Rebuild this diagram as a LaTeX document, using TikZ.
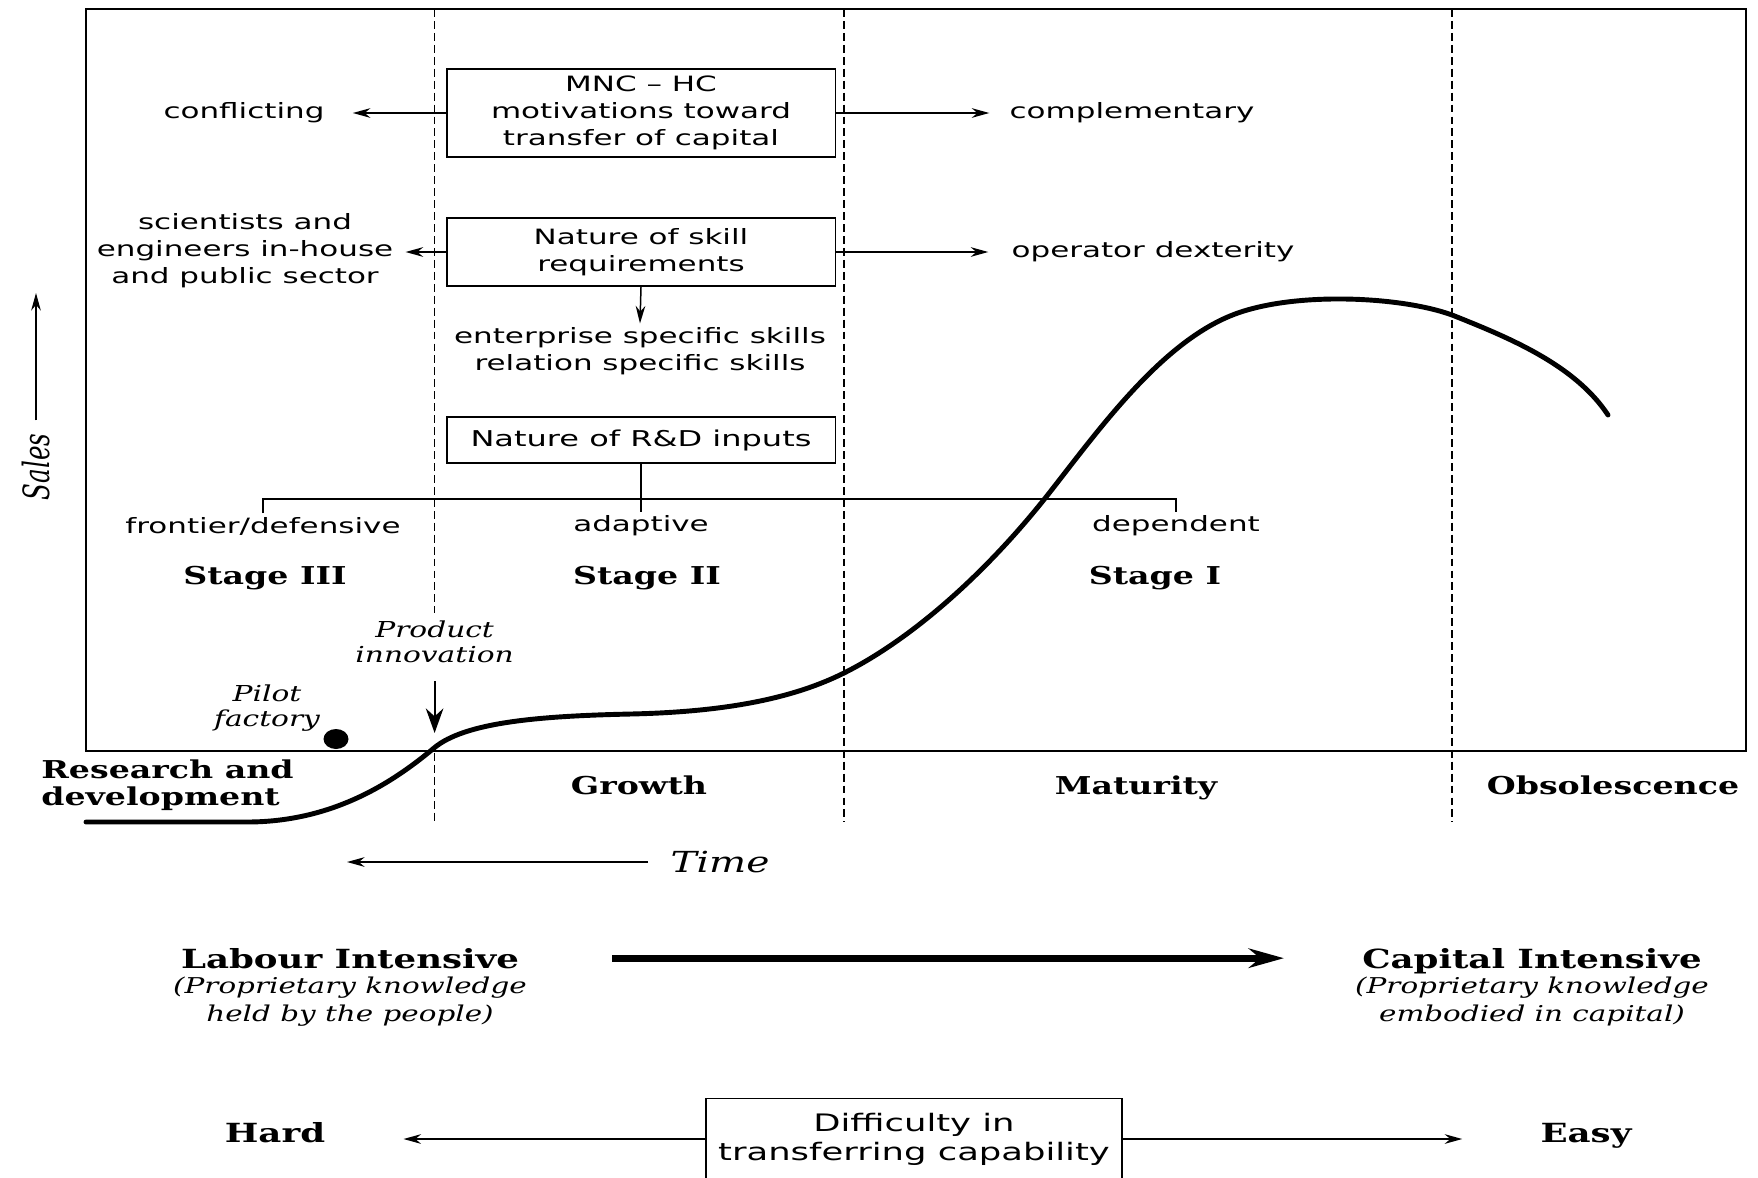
\documentclass[tikz,border=0pt]{standalone}
\usepackage{graphicx}
\usepackage{fontspec}
\setmainfont{DejaVu Serif}[FakeStretch=1.35]
\setsansfont{DejaVu Sans}[FakeStretch=1.47]
\newfontfamily\plainserif{DejaVu Serif}
\usetikzlibrary{arrows.meta,positioning}

\begin{document}
\begin{tikzpicture}[x=0.02cm,y=-0.02cm,>={Stealth[length=10pt,width=5.5pt]},
  factor/.style={draw,line width=1.1pt,minimum width=7.78cm,inner sep=0pt,align=center,
    font=\sffamily\fontsize{12}{15.4}\selectfont},
  txt/.style={inner sep=2pt,align=center,font=\sffamily\fontsize{12}{15.4}\selectfont},
  stage/.style={inner sep=0pt,align=center,font=\bfseries\fontsize{14}{15.4}\selectfont},
  heading/.style={inner sep=0pt,anchor=base,font=\bfseries\fontsize{15}{16}\selectfont},
  remark/.style={inner sep=0pt,align=center,font=\itshape\fontsize{12.5}{14.2}\selectfont},
  aside/.style={inner sep=0pt,align=center,font=\itshape\fontsize{12.4}{16}\selectfont},
  link/.style={->,line width=0.85pt},
  phase/.style={line width=0.85pt,dash pattern=on 4.5pt off 2.3pt}]
  \useasboundingbox (0,0) rectangle (1758,1177);
  \draw[line width=1.1pt] (86,9) rectangle (1746,751);
  \draw[phase] (434.6,9) -- (434.6,613) (434.6,753) -- (434.6,822);
  \draw[phase] (844,9) -- (844,822);
  \draw[phase] (1452,9) -- (1452,822);

  \node[factor,minimum height=1.76cm] (mnc) at (641,113) {MNC – HC\\motivations toward\\transfer of capital};
  \node[txt] (confl) at (244,113) {conflicting};
  \node[txt] (compl) at (1132,113) {complementary};
  \draw[link,shorten >=0.49cm] (mnc.west) -- (confl.east);
  \draw[link,shorten >=0.33cm] (mnc.east) -- (compl.west);

  \node[factor,minimum height=1.36cm] (skill) at (641,252) {Nature of skill\\requirements};
  \node[txt] (sci) at (245,251) {scientists and\\engineers in-house\\and public sector};
  \node[txt] (oper) at (1153,252) {operator dexterity};
  \node[txt] (skills) at (640,351) {enterprise specific skills\\relation specific skills};
  \draw[link,shorten >=0.17cm] (skill.west) -- (skill.west -| sci.east);
  \draw[link,shorten >=0.39cm] (skill.east) -- (skill.east -| oper.west);
  \draw[link] (skill.south) -- (skills.north);

  \node[factor,minimum height=0.92cm,font=\sffamily\fontsize{12.4}{15.4}\selectfont] (rd) at (641,440) {Nature of R\&D inputs};
  \node[txt] (front) at (263,526) {frontier/defensive};
  \node[txt] (adapt) at (641,526) {adaptive};
  \node[txt] (depend) at (1176,526) {dependent};
  \draw[line width=0.85pt] (rd.south) -- (adapt.north);
  \draw[line width=0.85pt] (front.north) -- ++(0,-14) -| (depend.north);
  \node[stage] (st3) at (265,578) {Stage III};
  \node[stage] (st2) at (647,578) {Stage II};
  \node[stage] (st1) at (1155,578) {Stage I};

  \node[remark] (prod) at (434.6,642) {Product\\innovation};
  \coordinate (launch) at (434.6,733);
  \draw[-{Stealth[length=14pt,width=10pt]},line width=1.2pt,shorten <=0.36cm] (prod) -- (launch);
  \node[remark] (pilot) at (267,708) {Pilot\\factory};
  \fill (336,739) ellipse [x radius=0.25cm,y radius=0.2cm];

  \draw[line width=2.8pt,line cap=round] (86,822) -- (247,822)
    .. controls (330,822) and (390,785) .. (434,748)
    .. controls (465,722) and (540,716) .. (631,714)
    .. controls (720,712) and (790,700) .. (844,673)
    .. controls (910,640) and (985,575) .. (1050,492)
    .. controls (1100,428) and (1160,345) .. (1230,316)
    .. controls (1290,291) and (1400,296) .. (1452,315)
    .. controls (1510,338) and (1575,365) .. (1608,415);

  \node[stage,align=left,anchor=west] (rnd) at (41,785) {Research and\\development};
  \node[heading,font=\bfseries\fontsize{14}{16}\selectfont] (grow) at (639,794) {Growth};
  \node[heading,font=\bfseries\fontsize{14}{16}\selectfont] (mat) at (1136,794) {Maturity};
  \node[heading,font=\bfseries\fontsize{14}{16}\selectfont] (obs) at (1613,794) {Obsolescence};

  \node[rotate=90,inner sep=0pt] (sales) at (36,467) {\plainserif\itshape\fontsize{14}{16}\selectfont\scalebox{1}[1.47]{Sales}};
  \coordinate (salestop) at (36,293);
  \draw[link,shorten <=0.26cm] (sales.east) -- (salestop);

  \node[remark,font=\itshape\fontsize{16.5}{18}\selectfont] (time) at (720,862) {Time};
  \coordinate (past) at (347,862);
  \draw[link,shorten <=0.44cm] (time.west) -- (past);

  \node[heading] (labour) at (350,968) {Labour Intensive};
  \node[aside,below=5pt of labour.base] (labnote) {(Proprietary knowledge\\held by the people)};
  \node[heading] (capital) at (1532,968) {Capital Intensive};
  \node[aside,below=5pt of capital.base] (capnote) {(Proprietary knowledge\\embodied in capital)};
  \draw[-{Stealth[length=20pt,width=11pt]},line width=4pt,shorten <=1.86cm,shorten >=1.56cm]
    (labour.east) -- (labour.east -| capital.west);

  \node[heading] (hard) at (275,1142) {Hard};
  \node[heading] (easy) at (1586,1142) {Easy};
  \node[factor,minimum width=8.32cm,minimum height=1.62cm,font=\sffamily\fontsize{13.7}{16.5}\selectfont]
    (diff) at (914,1139) {Difficulty in\\transferring capability};
  \draw[link,shorten >=1.56cm] (diff.west) -- (diff.west -| hard.east);
  \draw[link,shorten >=1.56cm] (diff.east) -- (diff.east -| easy.west);
\end{tikzpicture}
\end{document}
